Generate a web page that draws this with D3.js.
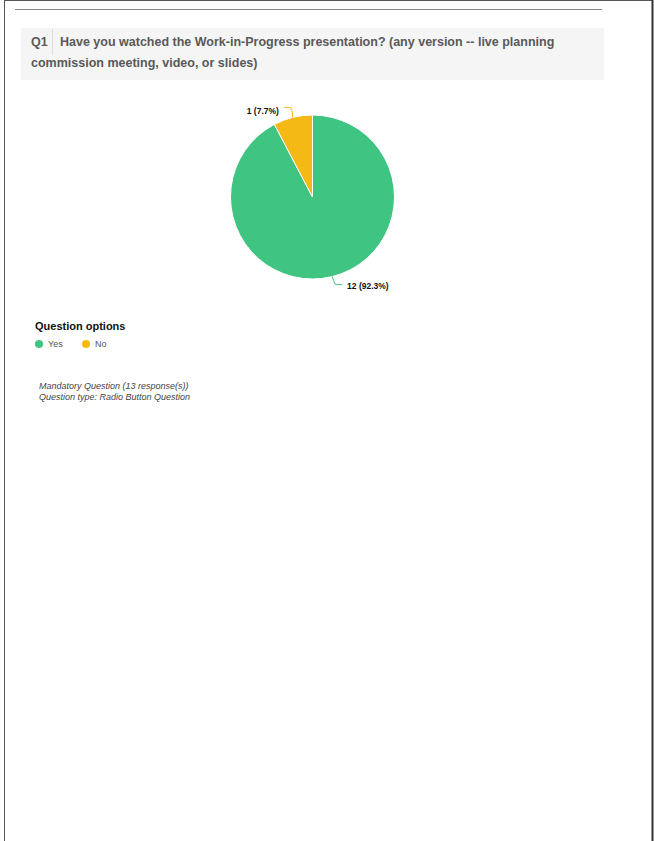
<!DOCTYPE html>
<html>
<head>
<meta charset="utf-8">
<script src="https://cdn.jsdelivr.net/npm/d3@7"></script>
<style>
  html, body { margin: 0; padding: 0; background: #fff; }
  svg { display: block; }
  text { font-family: "Liberation Sans", Arial, Helvetica, sans-serif; }
</style>
</head>
<body>
<script>
// ---- data ----
const categories = ["Yes", "No"];
const counts = [12, 1];
const colors = ["#40c482", "#f4b915"];
const titleNumber = "Q1";
const titleLines = [
  "Have you watched the Work-in-Progress presentation? (any version -- live planning",
  "commission meeting, video, or slides)"
];
const legendTitle = "Question options";
const footerLines = [
  "Mandatory Question (13 response(s))",
  "Question type: Radio Button Question"
];

const W = 654, H = 841;
const svg = d3.select("body").append("svg").attr("width", W).attr("height", H);

// page frame
svg.append("line").attr("x1", 4.5).attr("x2", 4.5).attr("y1", 0).attr("y2", H)
  .attr("stroke", "#555").attr("stroke-width", 1);
svg.append("line").attr("x1", 4).attr("x2", 653).attr("y1", 0.5).attr("y2", 0.5)
  .attr("stroke", "#555").attr("stroke-width", 1);
svg.append("line").attr("x1", 652.5).attr("x2", 652.5).attr("y1", 0).attr("y2", H)
  .attr("stroke", "#333").attr("stroke-width", 2);

// top rule
svg.append("line").attr("x1", 15).attr("x2", 602).attr("y1", 9.5).attr("y2", 9.5)
  .attr("stroke", "#8a8a8a").attr("stroke-width", 1);

// question box
svg.append("rect").attr("x", 21).attr("y", 28).attr("width", 583).attr("height", 52)
  .attr("fill", "#f5f5f5");
svg.append("line").attr("x1", 52.5).attr("x2", 52.5).attr("y1", 29).attr("y2", 55)
  .attr("stroke", "#dedede").attr("stroke-width", 1);
const tfs = 12.5;
svg.append("text").attr("x", 31).attr("y", 46).text(titleNumber)
  .attr("font-size", tfs).attr("font-weight", "bold").attr("fill", "#595959");
svg.append("text").attr("x", 60).attr("y", 46).text(titleLines[0])
  .attr("font-size", tfs).attr("font-weight", "bold").attr("fill", "#595959");
svg.append("text").attr("x", 31).attr("y", 67).text(titleLines[1])
  .attr("font-size", tfs).attr("font-weight", "bold").attr("fill", "#595959");

// pie
const cx = 312.5, cy = 197, R = 82;
const data = categories.map((c, i) => ({ cat: c, value: counts[i], color: colors[i] }));
const total = d3.sum(counts);
const pie = d3.pie().value(d => d.value).sort(null);
const arcs = pie(data);
const arc = d3.arc().innerRadius(0).outerRadius(R);
const g = svg.append("g").attr("transform", `translate(${cx},${cy})`);
g.selectAll("path.slice").data(arcs).join("path")
  .attr("class", "slice")
  .attr("d", arc)
  .attr("fill", d => d.data.color)
  .attr("stroke", "#fff").attr("stroke-width", 1);

// labels with leader lines
const fmt = d => `${d.data.value} (${d3.format(".1f")(d.data.value / total * 100)}%)`;
arcs.forEach(d => {
  const mid = (d.startAngle + d.endAngle) / 2;
  const sx = R * Math.sin(mid), sy = -R * Math.cos(mid);
  const up = sy < 0;
  const dir = Math.sin(mid) >= 0 ? 1 : -1;
  const ex = sx + (dir > 0 ? 2 : -1);
  const ey = sy + (up ? -10 : 8);
  const r = 3;
  const path = `M${sx},${sy} L${ex},${ey + (up ? r : -r)} Q${ex},${ey} ${ex + dir * r},${ey} L${ex + dir * 8},${ey}`;
  g.append("path").attr("d", path).attr("fill", "none")
    .attr("stroke", d.data.color).attr("stroke-width", 1);
  g.append("text")
    .attr("x", ex + dir * 13)
    .attr("y", ey + (up ? 6.5 : 4.5))
    .attr("text-anchor", dir > 0 ? "start" : "end")
    .attr("font-size", 8.5).attr("font-weight", "bold").attr("fill", "#111")
    .text(fmt(d));
});

// legend
svg.append("text").attr("x", 35).attr("y", 330).text(legendTitle)
  .attr("font-size", 11).attr("font-weight", "bold").attr("fill", "#111");
const legX = d3.scalePoint().domain(categories).range([39, 86]);
const leg = svg.append("g").selectAll("g").data(data).join("g")
  .attr("transform", d => `translate(${legX(d.cat)},344)`);
leg.append("circle").attr("r", 4).attr("fill", d => d.color);
leg.append("text").attr("x", 9).attr("y", 3).text(d => d.cat)
  .attr("font-size", 9).attr("fill", "#555");

// footer
svg.append("g").selectAll("text").data(footerLines).join("text")
  .attr("x", 39).attr("y", (d, i) => 389 + i * 11)
  .attr("font-size", 9).attr("font-style", "italic").attr("fill", "#444")
  .text(d => d);
</script>
</body>
</html>
